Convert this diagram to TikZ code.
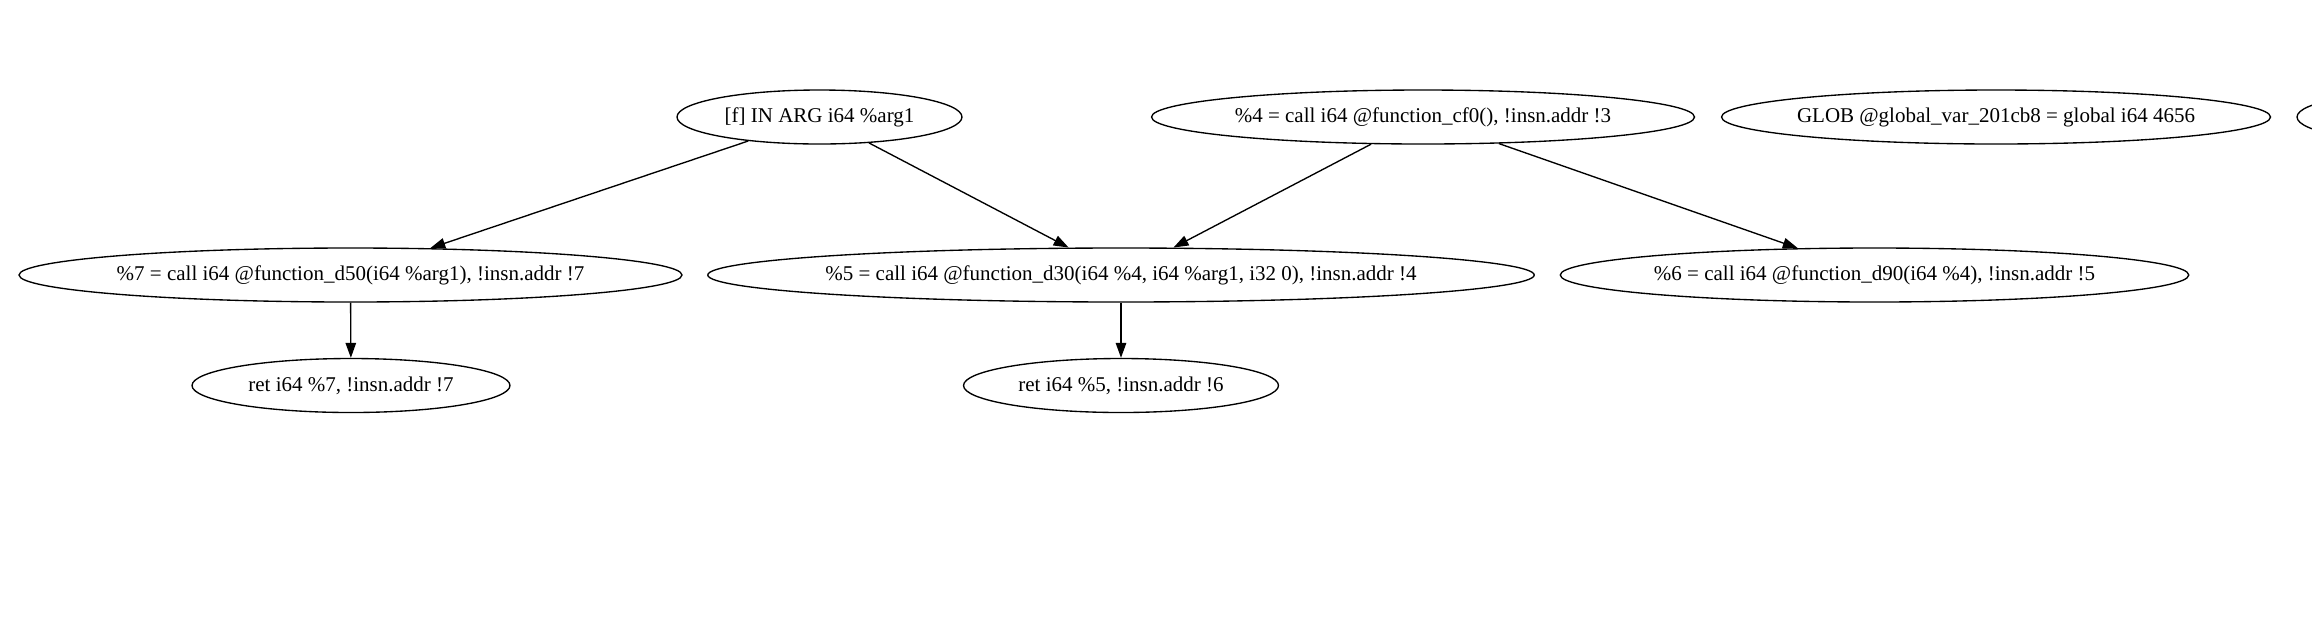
\documentclass[tikz,border=0pt]{standalone}
\usepackage{fontspec}
\setmainfont{Liberation Serif}
\usetikzlibrary{positioning,shapes.geometric,arrows.meta}
\newcommand{\irlabel}[1]{\makebox[0pt]{#1}}

\begin{document}
\begin{tikzpicture}[>={Triangle[length=10pt,width=7pt]},x=0.6667pt,y=-0.6667pt,
  irnode/.style={draw,ellipse,line width=0.9pt,inner sep=0pt,minimum height=36pt,
    font=\fontsize{14}{16}\selectfont},
  dep/.style={->,line width=0.9pt}]
\useasboundingbox (0,0) rectangle (2312,640);
% top row: argument, first call, global (and a node cut off at the edge)
\node[irnode,minimum width=190pt] (arg) at (819.5,117) {\irlabel{[f] IN ARG i64 \%arg1}};
\node[irnode,minimum width=362pt] (cf0) at (1423,117) {\irlabel{\%4 = call i64 @function\_cf0(), !insn.addr !3}};
\node[irnode,minimum width=366pt] (glob) at (1996,117) {\irlabel{GLOB @global\_var\_201cb8 = global i64 4656}};
\node[irnode,minimum width=200pt] (cut) at (2447,117) {};
% middle row: calls
\node[irnode,minimum width=442pt] (d50) at (350.5,275) {\irlabel{\%7 = call i64 @function\_d50(i64 \%arg1), !insn.addr !7}};
\node[irnode,minimum width=551pt] (d30) at (1121,275) {\irlabel{\%5 = call i64 @function\_d30(i64 \%4, i64 \%arg1, i32 0), !insn.addr !4}};
\node[irnode,minimum width=419pt] (d90) at (1874.5,275) {\irlabel{\%6 = call i64 @function\_d90(i64 \%4), !insn.addr !5}};
% bottom row: returns
\node[irnode,minimum width=212pt] (ret7) at (351,385.5) {\irlabel{ret i64 \%7, !insn.addr !7}};
\node[irnode,minimum width=210pt] (ret5) at (1121,385.5) {\irlabel{ret i64 \%5, !insn.addr !6}};
% data dependencies
\draw[dep] (arg) -- (d50);
\draw[dep] (arg) -- (d30);
\draw[dep] (cf0) -- (d30);
\draw[dep] (cf0) -- (d90);
\draw[dep] (d50) -- (ret7);
\draw[dep] (d30) -- (ret5);
\end{tikzpicture}
\end{document}
